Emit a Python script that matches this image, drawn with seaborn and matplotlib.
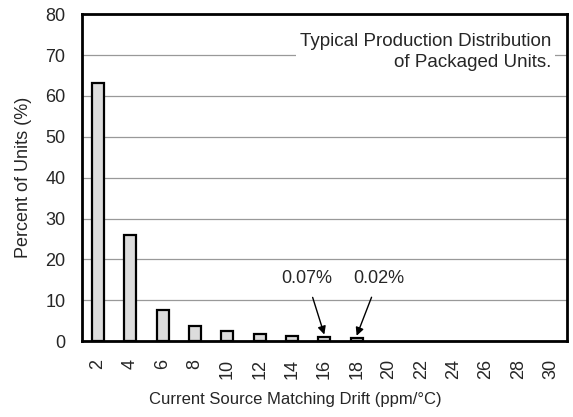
import matplotlib
matplotlib.use("Agg")
import matplotlib.pyplot as plt
import seaborn as sns
import numpy as np
import pandas as pd

drift = [2, 4, 6, 8, 10, 12, 14, 16, 18, 20, 22, 24, 26, 28, 30]
percent = [63.2, 26.0, 7.6, 3.8, 2.4, 1.7, 1.3, 1.1, 0.8, 0, 0, 0, 0, 0, 0]
notes = ["0.07%", "0.02%"]
note_drift = [16, 18]

sns.set_style("white")
plt.rcParams["font.family"] = ["Liberation Sans", "DejaVu Sans"]

df = pd.DataFrame({"drift": [str(d) for d in drift], "percent": percent})

fig = plt.figure(figsize=(5.73, 4.17), dpi=100)
ax = fig.add_axes([0.143, 0.182, 0.846, 0.784])

sns.barplot(data=df, x="drift", y="percent", order=df["drift"], color="#dcdcdc",
            width=0.37, edgecolor="black", linewidth=1.6, saturation=1, ax=ax, zorder=3)
# empty bins draw nothing
for p in ax.patches:
    if p.get_height() == 0:
        p.set_visible(False)

ax.set_ylim(0, 80)
ax.set_xlim(-0.5, len(drift) - 0.5)
ax.set_yticks(range(0, 81, 10))
ax.yaxis.grid(True, color="#999999", linewidth=0.9, zorder=0)
ax.set_axisbelow(True)
for s in ax.spines.values():
    s.set_linewidth(2)
    s.set_color("black")

ax.tick_params(axis="x", which="major", length=0, pad=13, labelsize=13, labelrotation=90)
ax.set_xticks(np.arange(0.5, len(drift) - 1, 1), minor=True)
ax.tick_params(axis="x", which="minor", length=5, width=1, direction="out", color="black")
ax.tick_params(axis="y", length=0, labelsize=13, pad=12)

ax.set_xlabel("Current Source Matching Drift (ppm/°C)", fontsize=12, va="center")
ax.xaxis.set_label_coords(0.44, -0.18)
ax.set_ylabel("Percent of Units (%)", fontsize=13, va="center")
ax.yaxis.set_label_coords(-0.12, 0.5)

ax.text(0.968, 0.942, "Typical Production Distribution\nof Packaged Units.",
        transform=ax.transAxes, ha="right", va="top", fontsize=13.5, linespacing=1.3,
        bbox=dict(facecolor="white", edgecolor="none", pad=3), zorder=4)

text_x = [6.46, 8.68]
for note, d, tx in zip(notes, note_drift, text_x):
    i = drift.index(d)
    ax.annotate(note, xy=(i, percent[i] + 0.5), xytext=(tx, 15.2),
                ha="center", va="center", fontsize=13,
                arrowprops=dict(arrowstyle="-|>", color="black", lw=1,
                                mutation_scale=12, shrinkA=5, shrinkB=0))

fig.savefig("out.png", dpi=100)
